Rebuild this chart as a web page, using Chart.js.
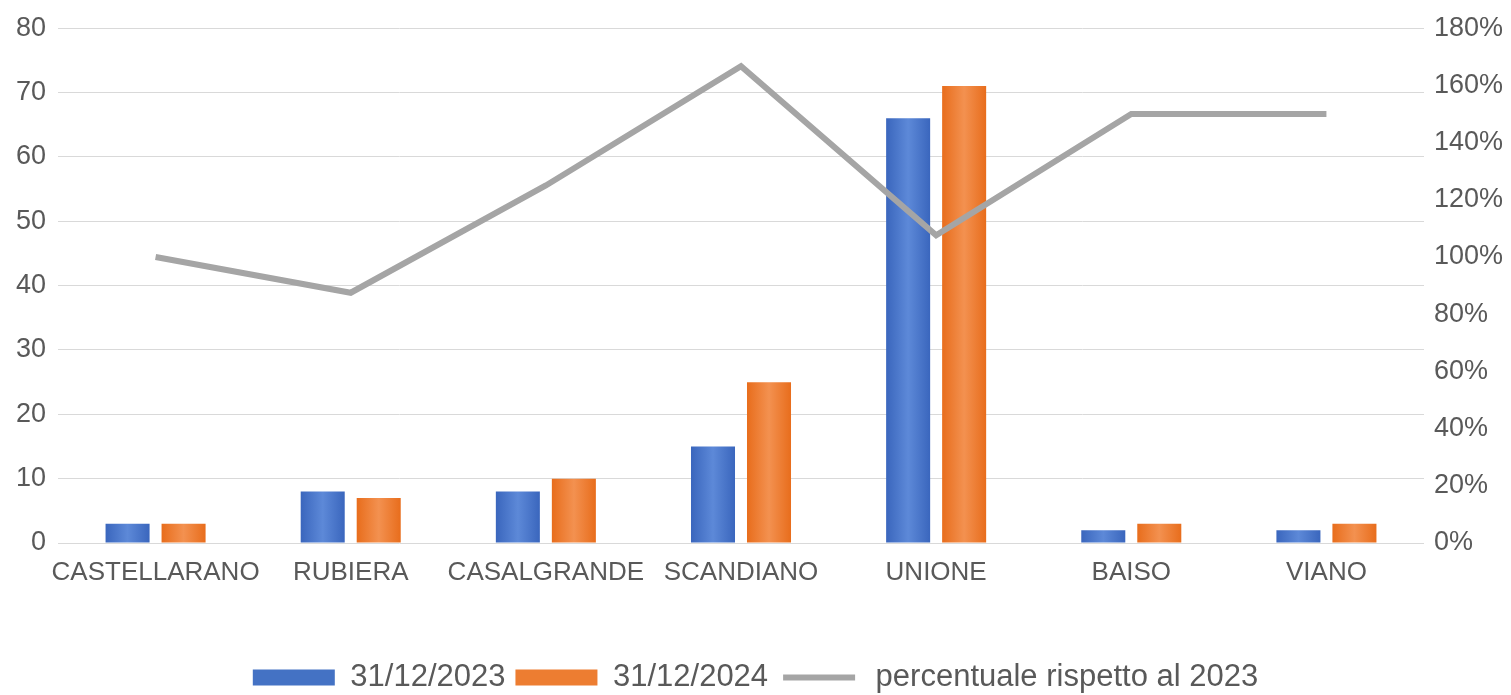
<!DOCTYPE html>
<html>
<head>
<meta charset="utf-8">
<script src="https://cdn.jsdelivr.net/npm/chart.js@4"></script>
<style>
html,body{margin:0;padding:0;background:#fff;}
#wrap{width:1511px;height:695px;position:relative;}
</style>
</head>
<body>
<div id="wrap"><canvas id="c"></canvas></div>
<script>
const categories = ['CASTELLARANO','RUBIERA','CASALGRANDE','SCANDIANO','UNIONE','BAISO','VIANO'];
const values2023 = [3, 8, 8, 15, 66, 2, 2];
const values2024 = [3, 7, 10, 25, 71, 3, 3];
const percentVs2023 = [100, 87.5, 125, 166.7, 107.6, 150, 150];
const seriesLabels = ['31/12/2023', '31/12/2024', 'percentuale rispetto al 2023'];

const FONT = '"Liberation Sans", Arial, sans-serif';
const TXT = '#595959';
const CAT_PCT = 0.574, BAR_PCT = 0.786;

function barGradient(solid, edge, mid) {
  return function (ctx) {
    if (ctx.type !== 'data') return solid;
    const chart = ctx.chart;
    const xs = chart.scales.x;
    if (!xs || !xs.width) return solid;
    const cw = xs.width / categories.length;
    const slot = cw * CAT_PCT / 2;
    const center = xs.getPixelForValue(ctx.dataIndex) + (ctx.datasetIndex === 0 ? -slot / 2 : slot / 2);
    const w = slot * BAR_PCT;
    const g = chart.ctx.createLinearGradient(center - w / 2, 0, center + w / 2, 0);
    g.addColorStop(0, edge);
    g.addColorStop(0.5, mid);
    g.addColorStop(1, edge);
    return g;
  };
}

new Chart(document.getElementById('c'), {
  data: {
    labels: categories,
    datasets: [
      { type: 'bar', label: seriesLabels[0], data: values2023, yAxisID: 'y', order: 1,
        backgroundColor: barGradient('#4472c4', '#3a66bd', '#5d89d8'),
        categoryPercentage: CAT_PCT, barPercentage: BAR_PCT },
      { type: 'bar', label: seriesLabels[1], data: values2024, yAxisID: 'y', order: 1,
        backgroundColor: barGradient('#ed7d31', '#e86d1c', '#f39150'),
        categoryPercentage: CAT_PCT, barPercentage: BAR_PCT },
      { type: 'line', label: seriesLabels[2], data: percentVs2023, borderColor: '#a5a5a5', backgroundColor: '#a5a5a5',
        borderWidth: 6, pointRadius: 0, tension: 0, yAxisID: 'y1', order: 0, borderJoinStyle: 'miter', borderCapStyle: 'butt' }
    ]
  },
  options: {
    responsive: true,
    maintainAspectRatio: false,
    animation: false,
    layout: { padding: { top: 26, bottom: -8, left: 0, right: 0 } },
    plugins: {
      tooltip: { enabled: false },
      legend: {
        position: 'bottom',
        labels: {
          font: { family: FONT, size: 31 },
          color: TXT,
          boxWidth: 82,
          boxHeight: 16,
          padding: 10,
          sort: (a, b) => a.datasetIndex - b.datasetIndex,
          generateLabels(chart) {
            const items = Chart.defaults.plugins.legend.labels.generateLabels(chart);
            items.forEach(it => {
              if (it.datasetIndex === 2) {
                it.fillStyle = '#a5a5a5';
                it.strokeStyle = '#ffffff';
                it.lineWidth = 10;
              } else {
                it.fillStyle = it.datasetIndex === 0 ? '#4472c4' : '#ed7d31';
                it.lineWidth = 0;
              }
            });
            return items;
          }
        }
      }
    },
    scales: {
      x: {
        grid: { display: false },
        border: { display: false },
        ticks: { font: { family: FONT, size: 26 }, color: TXT, padding: 6, maxRotation: 0, autoSkip: false },
        afterFit(s) { s.height = 109; }
      },
      y: {
        position: 'left',
        min: 0, max: 80,
        ticks: { stepSize: 10, font: { family: FONT, size: 27 }, color: TXT, padding: 12 },
        grid: { color: '#d9d9d9', lineWidth: 1, drawTicks: false },
        border: { display: false },
        afterFit(s) { s.width = 58; }
      },
      y1: {
        position: 'right',
        min: 0, max: 180,
        ticks: { stepSize: 20, font: { family: FONT, size: 27 }, color: TXT, padding: 10,
                 callback: v => v + '%' },
        grid: { display: false, drawTicks: false },
        border: { display: false },
        afterFit(s) { s.width = 87; }
      }
    }
  }
});
</script>
</body>
</html>
